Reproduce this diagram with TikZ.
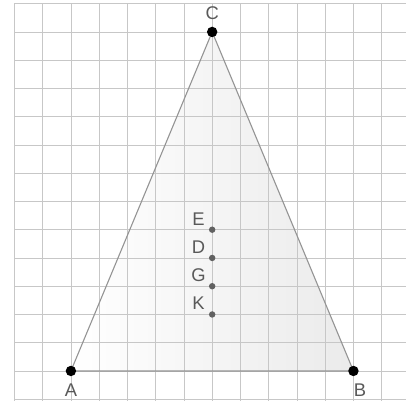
\documentclass[tikz,border=0pt]{standalone}
\usepackage{fontspec}
\setmainfont{Liberation Sans}
\begin{document}
\begin{tikzpicture}[x=1cm,y=1cm,
  gridline/.style={draw=black!22, line width=0.8pt},
  edge/.style={draw=black!42, line width=1.1pt},
  bigpt/.style={circle, fill=black, inner sep=0pt, minimum size=10.5pt},
  smallpt/.style={circle, fill=black!62, inner sep=0pt, minimum size=6.5pt},
  lbl/.style={text=black!65, font=\fontsize{18.5}{20}\selectfont, inner sep=0pt}]
\useasboundingbox (-2.51,-1.06) rectangle (11.86,13.13);
\fill[white] (-2.51,-1.06) rectangle (11.86,13.13);
% triangle fill
\shade[left color=white, right color=black!8] (0,0) -- (10,0) -- (5,12) -- cycle;
% grid
\foreach \x in {-2,...,11} \draw[gridline] (\x,-1.06) -- (\x,13);
\foreach \y in {-1,...,13} \draw[gridline] (-2,\y) -- (11.86,\y);
% triangle
\coordinate (pA) at (0,0);
\coordinate (pB) at (10,0);
\coordinate (pC) at (5,12);
\draw[edge] (pA) -- (pB) -- (pC) -- cycle;
% points
\node[bigpt] (A) at (pA) {};
\node[bigpt] (B) at (pB) {};
\node[bigpt] (C) at (pC) {};
\node[smallpt] (E) at (5,5) {};
\node[smallpt] (D) at (5,4) {};
\node[smallpt] (G) at (5,3) {};
\node[smallpt] (K) at (5,2) {};
% labels
\node[lbl] (lA) at (0,-0.68) {A};
\node[lbl] (lB) at (10.23,-0.68) {B};
\node[lbl] (lC) at (5.0,12.68) {C};
\node[lbl] (lE) at (4.52,5.39) {E};
\node[lbl] (lD) at (4.52,4.39) {D};
\node[lbl] (lG) at (4.52,3.39) {G};
\node[lbl] (lK) at (4.52,2.39) {K};
\end{tikzpicture}
\end{document}
